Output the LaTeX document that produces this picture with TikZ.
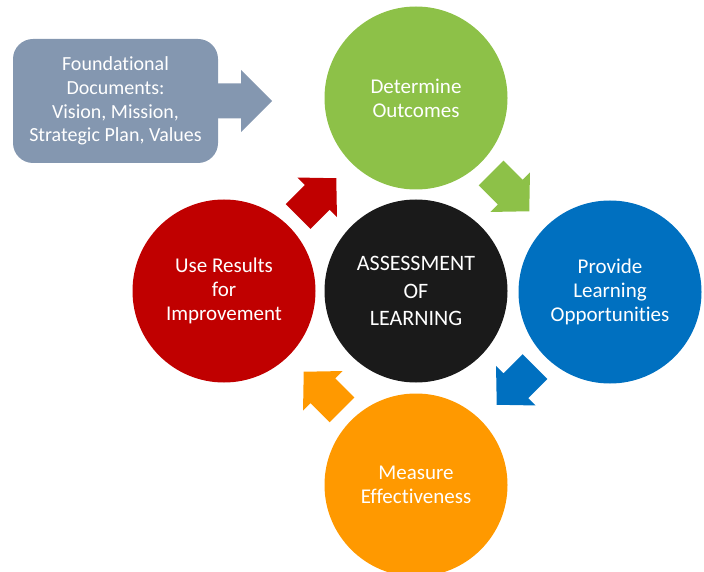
\documentclass[tikz,border=0pt]{standalone}
\usepackage{fontspec}
\setmainfont{Carlito}[Ligatures=NoCommon]
\usepackage{tikz}
\usetikzlibrary{calc}

\definecolor{outcomec}{HTML}{8DC148}
\definecolor{providec}{HTML}{0070C0}
\definecolor{measurec}{HTML}{FF9900}
\definecolor{improvec}{HTML}{C00000}
\definecolor{centerc}{HTML}{1A1A1A}
\definecolor{foundc}{HTML}{8497B0}

\tikzset{
  stage/.style={circle,fill=#1,minimum size=183pt,inner sep=0pt,text=white,
    align=center,font=\fontsize{21}{24}\selectfont},
  blockarrow/.pic={
    \fill[#1] (-31,-17.5) -- (-4,-17.5) -- (-4,-28) -- (23,0) -- (-4,28) -- (-4,17.5) -- (-31,17.5) -- cycle;
  }
}

\begin{document}
\begin{tikzpicture}[x=1pt,y=-1pt]
\useasboundingbox (0,0) rectangle (704,572);

\node[stage=outcomec] (outcome) at (416,98) {Determine\\Outcomes};
\node[stage=providec] (provide) at (610,292) {Provide\\Learning\\Opportunities};
\node[stage=measurec] (measure) at (416,485) {Measure\\Effectiveness};
\node[stage=improvec] (improve) at (224,291) {Use Results\\for\\Improvement};
\node[stage=centerc,font=\fontsize{22}{27.5}\selectfont] (assess) at (416,291) {ASSESSMENT\\OF\\LEARNING};

\pic[rotate=-45] at ($(outcome)!0.5!(provide)$) {blockarrow=outcomec};
\pic[rotate=-135] at ($(provide)!0.5!(measure)$) {blockarrow=providec};
\pic[rotate=135] at ($(measure)!0.5!(improve)$) {blockarrow=measurec};
\pic[rotate=45] at ($(improve)!0.5!(outcome)$) {blockarrow=improvec};

\node[fill=foundc,rounded corners=20pt,minimum width=205pt,minimum height=124pt,
  text=white,align=center,font=\fontsize{20}{23.7}\selectfont] (found) at (115.5,101)
  {Foundational\\Documents:\\Vision, Mission,\\Strategic Plan, Values};
\fill[foundc] ($(found.east)+(-2,-17.5)$) -- ++(25,0) -- ++(0,-13.5)
  -- ($(found.east)+(54,0)$) -- ($(found.east)+(23,31)$) -- ++(0,-13.5)
  -- ($(found.east)+(-2,17.5)$) -- cycle;
\end{tikzpicture}
\end{document}
